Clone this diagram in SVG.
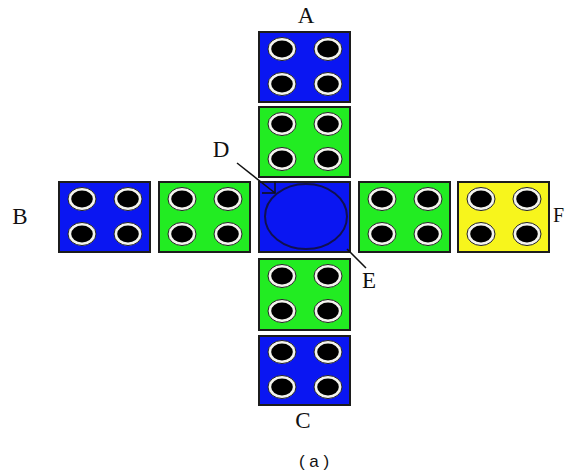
<svg xmlns="http://www.w3.org/2000/svg" xmlns:xlink="http://www.w3.org/1999/xlink" width="567" height="474" viewBox="0 0 567 474">
<style>
.box{stroke:#1c1c1c;stroke-width:2}
.blue{fill:#0a16f2}
.green{fill:#22ec22}
.yellow{fill:#f7f51c}
.lbl{font-family:"Liberation Serif",serif;font-size:23px;fill:#111;text-anchor:middle}
.cap{font-family:"Liberation Sans",sans-serif;font-size:17px;fill:#111;text-anchor:middle}
.ln{stroke:#111;stroke-width:1.5;fill:none}
</style>
<defs>
<g id="hole">
<ellipse rx="14" ry="11.5" fill="#f4f4ee" stroke="#222" stroke-width="1"/>
<ellipse rx="10.8" ry="8.4" fill="#000"/>
</g>
<g id="holes">
<use xlink:href="#hole" x="23" y="17"/>
<use xlink:href="#hole" x="69" y="17"/>
<use xlink:href="#hole" x="23" y="52"/>
<use xlink:href="#hole" x="69" y="52"/>
</g>
</defs>
<rect width="567" height="474" fill="#fff"/>
<g id="A">
<rect class="box blue" x="259" y="32" width="91" height="70"/>
<use xlink:href="#holes" x="259" y="32"/>
<text class="lbl" x="306" y="23">A</text>
</g>
<g id="greenTop">
<rect class="box green" x="259" y="107" width="91" height="70"/>
<use xlink:href="#holes" x="259" y="107"/>
</g>
<g id="center">
<rect class="box blue" x="259" y="182" width="91" height="70"/>
<ellipse cx="306" cy="216.5" rx="41" ry="32.5" fill="#0a16f2" stroke="#101050" stroke-width="2"/>
</g>
<g id="greenBottom">
<rect class="box green" x="259" y="259" width="91" height="71"/>
<use xlink:href="#holes" x="259" y="259"/>
</g>
<g id="C">
<rect class="box blue" x="259" y="336" width="91" height="69"/>
<use xlink:href="#holes" x="259" y="335"/>
<text class="lbl" x="303" y="428">C</text>
</g>
<g id="B">
<rect class="box blue" x="59" y="182" width="91" height="70"/>
<use xlink:href="#holes" x="59" y="182"/>
<text class="lbl" x="20" y="224">B</text>
</g>
<g id="greenLeft">
<rect class="box green" x="159" y="182" width="91" height="70"/>
<use xlink:href="#holes" x="159" y="182"/>
</g>
<g id="greenRight">
<rect class="box green" x="359" y="182" width="91" height="70"/>
<use xlink:href="#holes" x="359" y="182"/>
</g>
<g id="F">
<rect class="box yellow" x="458" y="182" width="91" height="70"/>
<use xlink:href="#holes" x="458" y="182"/>
<text class="lbl" x="553" y="222" style="text-anchor:start;font-size:20px">F</text>
</g>
<g id="connectors">
<path class="ln" d="M237,163 L275,193"/>
<path class="ln" d="M262,193 L275,193 L275,181"/>
<path class="ln" d="M347,249 L366,268"/>
</g>
<g id="labels">
<text class="lbl" x="221" y="157">D</text>
<text class="lbl" x="369" y="288">E</text>
<text class="cap" x="314" y="467">( a )</text>
</g>
</svg>
